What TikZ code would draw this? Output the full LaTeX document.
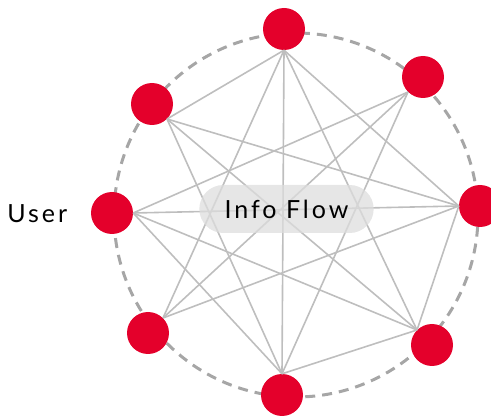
\documentclass[tikz,border=0pt]{standalone}
\usepackage{fontspec}
\newfontfamily\myfont[LetterSpace=12]{Lato}
\usepackage{tikz}
\usetikzlibrary{calc,positioning,shapes.misc}
\definecolor{myred}{RGB}{228,0,43}
\definecolor{mygray}{RGB}{190,190,190}
\definecolor{mydash}{RGB}{166,166,166}
\definecolor{mypillgray}{RGB}{221,221,221}

\begin{document}
\begin{tikzpicture}[
  x=1pt, y=-1pt,
  mycircle/.style={
    circle,
    fill=myred,
    minimum size=42pt,
    inner sep=0pt
  },
  myline/.style={draw=mygray, line width=1.6pt},
  mylabel/.style={font=\myfont\fontsize{25}{30}\selectfont},
  mypill/.style={
    mylabel,
    rounded rectangle,
    fill=mypillgray,
    fill opacity=0.75,
    text opacity=1,
    minimum width=181pt,
    minimum height=48pt
  }
]
\useasboundingbox (0,0) rectangle (491,417);

\draw [mydash, line width=3pt, dash pattern=on 10pt off 7pt] (296,215) circle [radius=182pt];

% the eight users
\node [mycircle] (T)  at (284,29)  {};
\node [mycircle] (UR) at (423,77)  {};
\node [mycircle] (R)  at (480,206) {};
\node [mycircle] (LR) at (432,345) {};
\node [mycircle] (B)  at (282,395) {};
\node [mycircle] (LL) at (148,333) {};
\node [mycircle] (L)  at (112,213) {};
\node [mycircle] (UL) at (152,104) {};

% where the lines meet each circle
\coordinate (hT)  at (T.south);
\coordinate (hUR) at (UR.south west);
\coordinate (hR)  at (R.west);
\coordinate (hLR) at (LR.north west);
\coordinate (hB)  at (B.north);
\coordinate (hLL) at (LL.north east);
\coordinate (hL)  at (L.east);
\coordinate (hUL) at (UL.south east);

\foreach \a/\b in {T/UL, T/LL, T/B, T/LR, T/R,
                   UR/L, UR/LL, UR/B,
                   R/UL, R/L, R/LL, R/LR,
                   LR/L, LR/UL, LR/B,
                   B/L, B/UL}
  \draw [myline] (h\a) -- (h\b);

\node [mypill] (flow) at (286.5,209) {Info Flow};
\node [mylabel, left=20pt of L, yshift=-1pt] (user) {User};

\end{tikzpicture}
\end{document}
